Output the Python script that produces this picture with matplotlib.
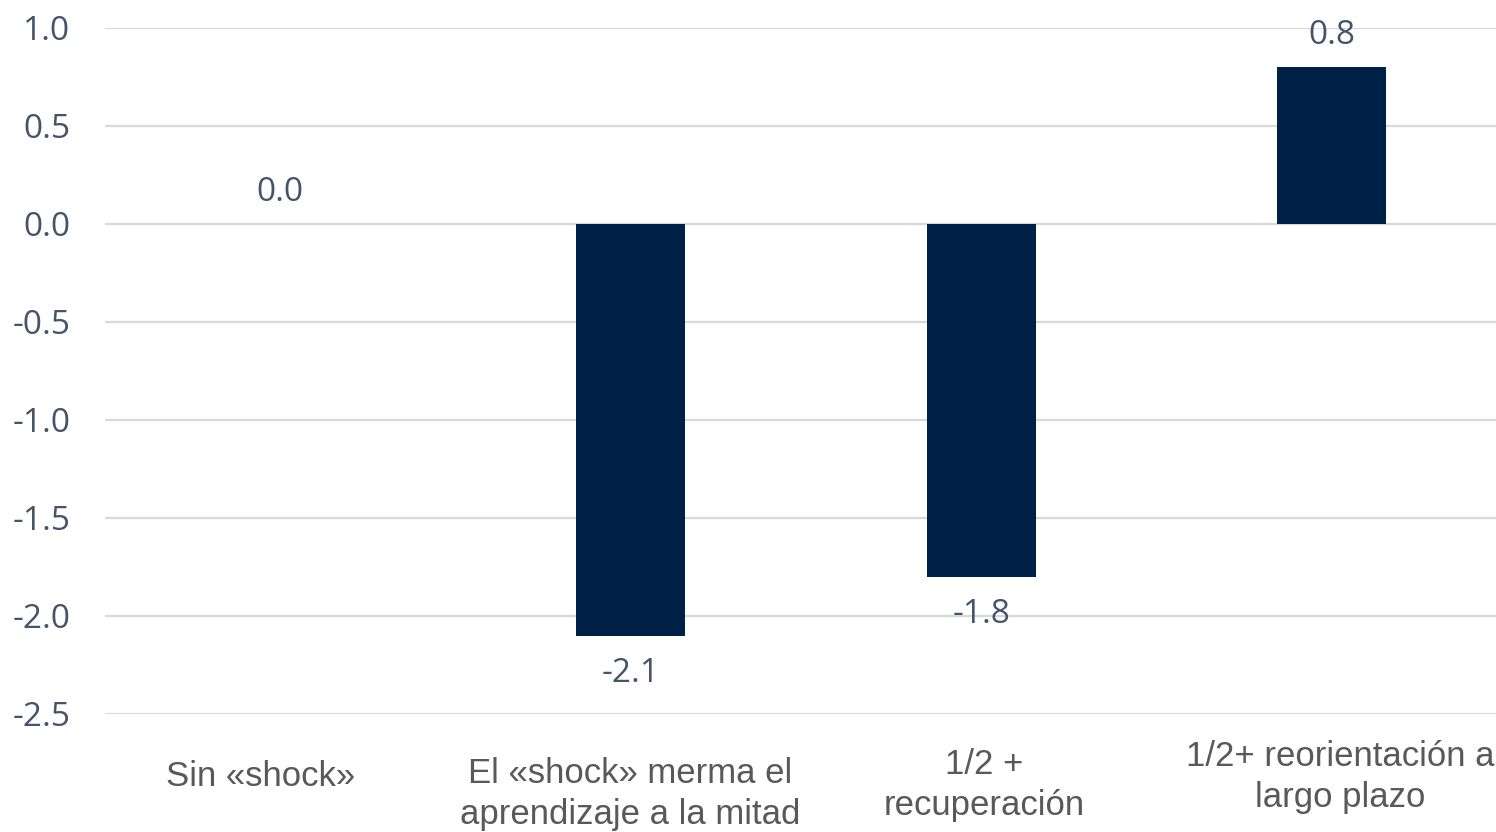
import matplotlib
matplotlib.use("Agg")
import matplotlib.pyplot as plt
from matplotlib.transforms import blended_transform_factory, offset_copy

categories = ["Sin «shock»",
              "El «shock» merma el\naprendizaje a la mitad",
              "1/2 +\nrecuperación",
              "1/2+ reorientación a\nlargo plazo"]
values = [0.0, -2.1, -1.8, 0.8]
yticks = [1.0, 0.5, 0.0, -0.5, -1.0, -1.5, -2.0, -2.5]

BAR = "#002147"
NUM = "#44546A"
CAT = "#595959"
GRID = "#D9D9D9"

W, H, DPI = 1496, 832, 100
fig = plt.figure(figsize=(W / DPI, H / DPI), dpi=DPI)
ax = fig.add_axes([105 / W, 1 - 714 / H, (1496 - 105) / W, (714 - 28) / H])

x = list(range(len(categories)))
ax.bar(x, values, width=0.311, color=BAR, zorder=3)

ax.set_xlim(-0.5, 3 + (1496 - 1332) / 350.5)
ax.set_ylim(-2.5, 1.0)
ax.set_yticks(yticks)
ax.set_yticklabels([f"{t:.1f}" for t in yticks], fontfamily="Open Sans",
                   fontsize=24, color=NUM)
ax.tick_params(axis="y", length=0, pad=25)
ax.set_xticks([])
ax.grid(axis="y", color=GRID, linewidth=1.6, zorder=0)
for s in ax.spines.values():
    s.set_visible(False)

# value labels: above positive/zero bars, below negative bars
for xi, v in zip(x, values):
    dy = 22.5 if v >= 0 else -27
    ax.annotate(f"{v:.1f}", (xi, v), xytext=(0, dy), textcoords="offset points",
                ha="center", va="center", fontfamily="Open Sans",
                fontsize=24, color=NUM)

# category labels below the plot area
trans = blended_transform_factory(ax.transData, fig.transFigure)
label_y = [776, 794, 785, 777]
label_dx = [-20, -1, 3, 8]
for xi, lab, yp, dx in zip(x, categories, label_y, label_dx):
    t = offset_copy(trans, fig=fig, x=dx * 72 / DPI, y=0, units="points")
    ax.text(xi, 1 - yp / H, lab, transform=t, ha="center", va="center",
            fontfamily="Liberation Sans", fontsize=25, color=CAT,
            linespacing=1.28, clip_on=False)

fig.savefig("out.png", dpi=DPI)
